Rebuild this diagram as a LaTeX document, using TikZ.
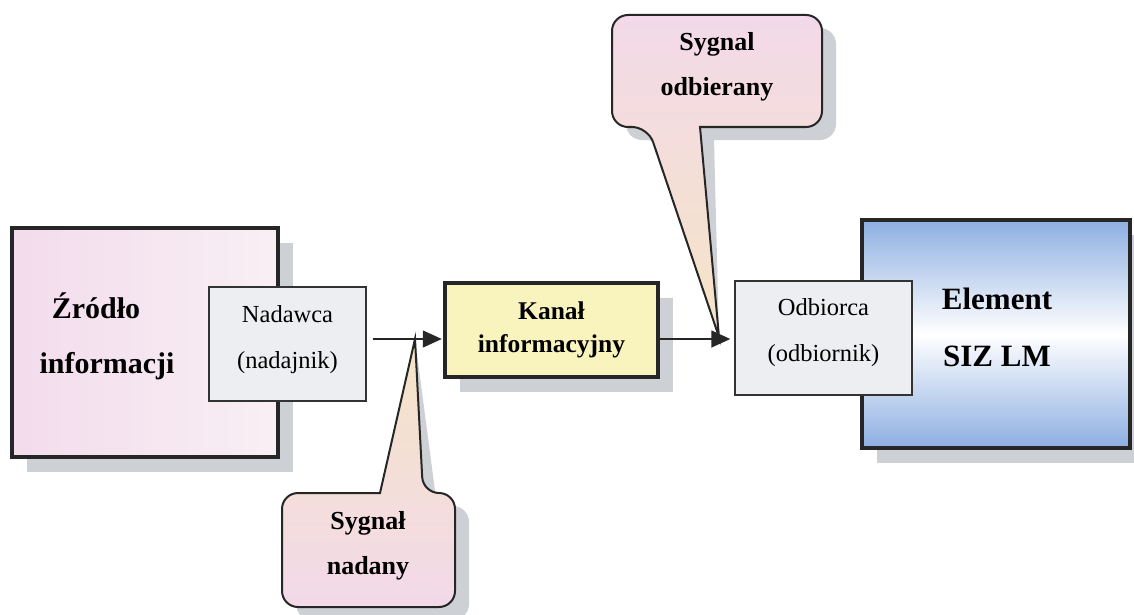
\documentclass[tikz,border=0pt]{standalone}
\usepackage{fontspec}
\setmainfont{Liberation Serif}
\usetikzlibrary{arrows.meta,shadows}
\definecolor{srcpink}{HTML}{F3DCEC}
\definecolor{srcpinklight}{HTML}{F8EFF4}
\definecolor{boxgrey}{HTML}{ECEEF1}
\definecolor{kanyellow}{HTML}{F9F3BE}
\definecolor{elblue}{HTML}{8DAFE2}
\definecolor{calpink}{HTML}{F3D9E9}
\definecolor{calpeach}{HTML}{F5E4C6}
\definecolor{shadowgrey}{HTML}{CDD0D4}
\begin{document}
\begin{tikzpicture}[x=1pt,y=-1pt,
  thickbox/.style={draw=black!85, line width=4.5pt, inner sep=0pt},
  thinbox/.style={draw=black!80, line width=1.4pt, fill=boxgrey, inner sep=0pt},
  thintext/.style={align=center, font=\fontsize{24.5}{46}\selectfont},
  shadowed/.style={general shadow={fill=shadowgrey, shadow xshift=15pt, shadow yshift=-15pt}},
  sig/.style={draw=black!85, line width=1.5pt, -{Triangle[length=19pt,width=17pt]}},
  callout/.style={draw=black!85, line width=2pt, rounded corners=16pt},
  caltext/.style={align=center, font=\fontsize{26}{45}\selectfont\bfseries}
]
\useasboundingbox (0,0) rectangle (1134,615);
\coordinate (sigY) at (0,339);
\coordinate (txtip) at (415,339);
\coordinate (rxtip) at (719,337);

% Zrodlo informacji
\node[thickbox, shadowed, left color=srcpink, right color=srcpinklight,
      minimum width=266pt, minimum height=229pt] (src) at (145,342.5) {};
\node[align=center, font=\fontsize{30}{55}\selectfont\bfseries] (srcT) at (107,336) {Źródło\hspace*{22pt}\\informacji};

% Element SIZ LM
\node[thickbox, shadowed, top color=elblue, bottom color=elblue, middle color=white,
      minimum width=268pt, minimum height=228pt] (elem) at (996,334) {};
\node[align=center, font=\fontsize{31}{57}\selectfont\bfseries] (elemT) at (997,327) {Element\\SIZ LM};

% Nadawca
\node[thinbox, minimum width=157pt, minimum height=114pt] (nad) at (287.5,344) {};
\node[thintext] (nadT) at (287.5,340) {Nadawca\\(nadajnik)};

% Kanal
\node[thickbox, shadowed, fill=kanyellow, minimum width=213pt, minimum height=94pt,
      align=center, font=\fontsize{25.5}{33}\selectfont\bfseries] (kan) at (551.5,330) {Kanał\\informacyjny};

% Odbiorca
\node[thinbox, minimum width=177pt, minimum height=114pt] (odb) at (823.5,338) {};
\node[thintext] (odbT) at (823.5,333) {Odbiorca\\(odbiornik)};

% callout shadows
\begin{scope}[shift={(14,13)}]
  \fill[shadowgrey, rounded corners=16pt] (700,127) -- (822,127) -- (822,15) -- (612,15) -- (612,127) -- (648,127) [sharp corners] -- (rxtip) -- cycle;
  \fill[shadowgrey, rounded corners=16pt] (380,493) -- (282,493) -- (282,607) -- (455,607) -- (455,493) -- (423,493) [sharp corners] -- (txtip) -- cycle;
\end{scope}

% callouts
\draw[callout, top color=calpink, bottom color=calpeach] (700,127) -- (822,127) -- (822,15) -- (612,15) -- (612,127) -- (648,127) [sharp corners] -- (rxtip) -- cycle;
\draw[callout, top color=calpeach, bottom color=calpink] (380,493) -- (282,493) -- (282,607) -- (455,607) -- (455,493) -- (423,493) [sharp corners] -- (txtip) -- cycle;
\node[caltext] (sodb) at (717,67) {Sygnal\\odbierany};
\node[caltext] (snad) at (368,546) {Sygnał\\nadany};

% connectors
\draw[sig, shorten <=6pt, shorten >=1pt] (nad.east |- sigY) -- (kan.west |- sigY);
\draw[sig, shorten >=4pt] (kan.east |- sigY) -- (odb.west |- sigY);
\end{tikzpicture}
\end{document}
